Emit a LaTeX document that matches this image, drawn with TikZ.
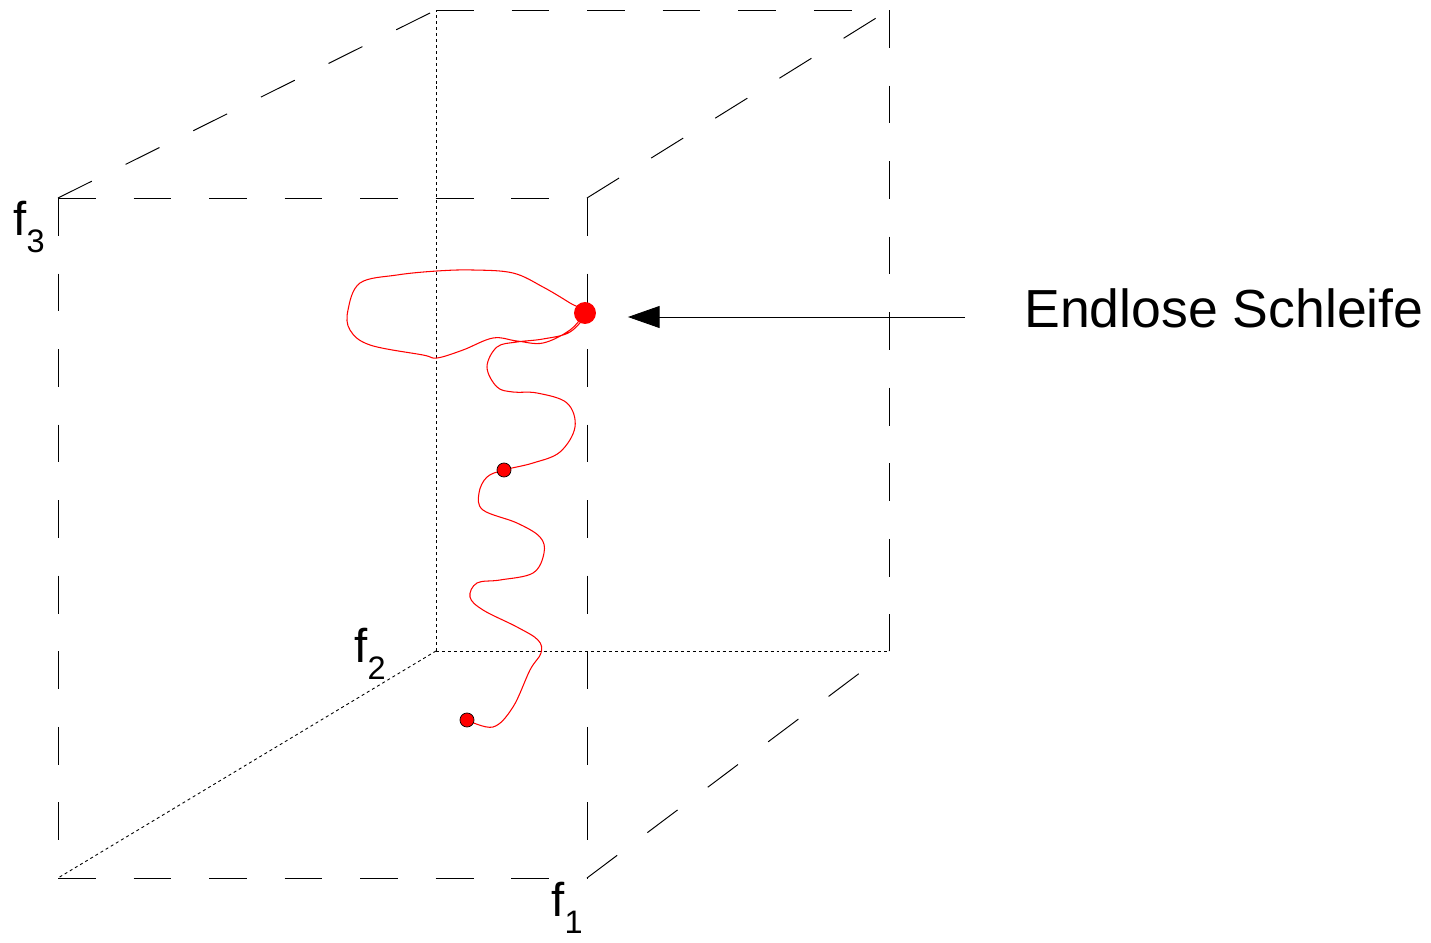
\documentclass[tikz,border=0pt]{standalone}
\usepackage{fontspec}
\setmainfont{Liberation Sans}
\usetikzlibrary{arrows.meta}
\newcommand{\axisname}[2]{#1\raisebox{-0.36em}{\fontsize{18.5}{18.5}\selectfont #2}}
\tikzset{
  edge/.style={line width=0.55pt,draw=black,dash pattern=on 21.5pt off 21.5pt},
  hidden/.style={line width=0.5pt,draw=black,dash pattern=on 1.7pt off 1.7pt},
  axislabel/.style={inner sep=0pt,anchor=base west,font=\fontsize{27}{27}\selectfont},
  trace/.style={draw=red,line width=0.6pt},
  bigdot/.style={circle,fill=red,inner sep=0pt,minimum size=12.5pt},
  smalldot/.style={circle,fill=red,draw=black,line width=0.4pt,inner sep=0pt,minimum size=8pt},
  pointer/.style={-{Triangle[length=18pt,width=12.5pt]},line width=0.5pt,draw=black}
}

\begin{document}
\begin{tikzpicture}[x=0.02cm,y=-0.02cm]
  \useasboundingbox (0,0) rectangle (1431,943);
  % cube corners
  \coordinate (ftl) at (58,198);
  \coordinate (ftr) at (587,198);
  \coordinate (fbl) at (58,878);
  \coordinate (fbr) at (587,878);
  \coordinate (btl) at (436,10);
  \coordinate (btr) at (889,10);
  \coordinate (bbl) at (436,651);
  \coordinate (bbr) at (889,651);

  \draw[edge] (ftl) -- (ftr);
  \draw[edge] (ftl) -- (fbl);
  \draw[edge] (fbl) -- (fbr);
  \draw[edge] (ftr) -- (fbr);
  \draw[edge] (ftl) -- (btl);
  \draw[edge] (btl) -- (btr);
  \draw[edge] (ftr) -- (btr);
  \draw[edge] (btr) -- (bbr);
  \draw[edge] (fbr) -- (bbr);
  \draw[hidden] (bbl) -- (btl);
  \draw[hidden] (bbl) -- (bbr);
  \draw[hidden] (bbl) -- (fbl);

  \node[axislabel] (f3) at (13,235) {\axisname{f}{3}};
  \node[axislabel] (f2) at (354,662) {\axisname{f}{2}};
  \node[axislabel] (f1) at (551,916) {\axisname{f}{1}};

  % trajectory
  \draw[trace] plot[smooth,tension=0.6] coordinates {
    (467,720) (493,727) (513,707) (530,670) (541,653) (538,640) (517,627)
    (483,610) (470,597) (477,583) (500,580) (533,573) (544,553) (540,537)
    (517,523) (483,510) (479,493) (487,477) (504,470) (533,463) (560,452)
    (575,427) (567,403) (537,393) (513,392) (497,387) (487,367) (497,347)
    (517,342) (543,339) (570,332) (585,313) (570,303) (543,287) (513,273)
    (473,270) (437,271) (397,275) (360,283) (348,310) (350,330) (370,345)
    (423,355) (437,358) (463,350) (493,338) (517,341) (543,343) (570,330)
    (585,313)};

  \node[smalldot] (start) at (467,720) {};
  \node[smalldot] (mid) at (504,470) {};
  \node[bigdot] (loop) at (585,313) {};

  \node[anchor=west,inner sep=0pt,font=\fontsize{30.5}{30.5}\selectfont] (label)
    at (1024,308) {Endlose Schleife};
  \coordinate (tail) at (965,317);
  \draw[pointer,shorten >=18pt] (tail) -- (tail -| loop.east);
\end{tikzpicture}
\end{document}
